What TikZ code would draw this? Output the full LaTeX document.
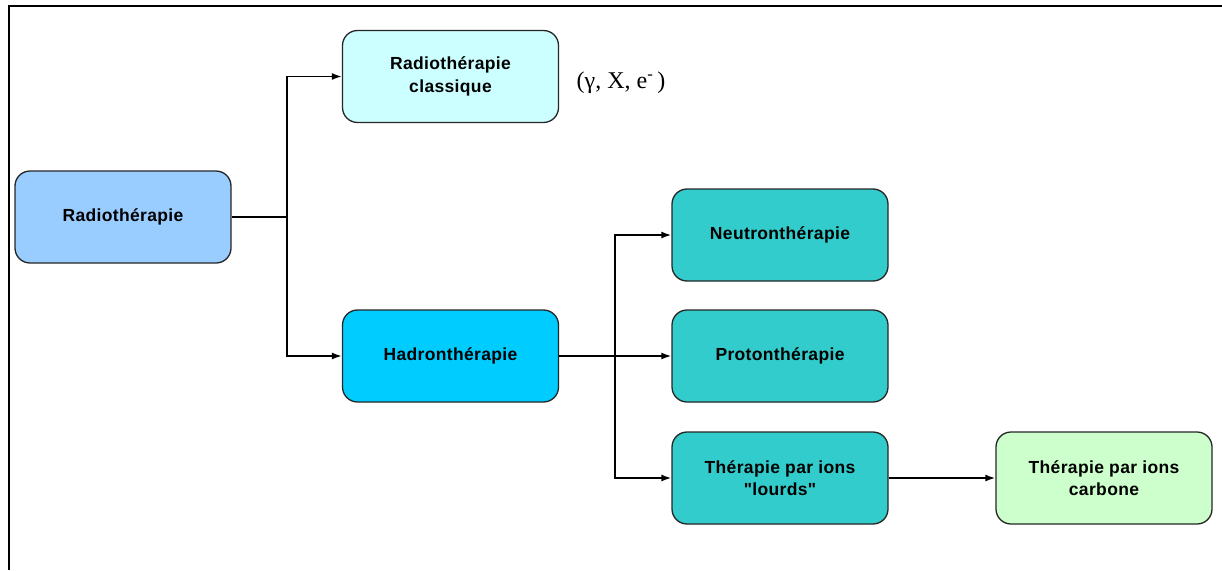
\documentclass[tikz,border=0pt]{standalone}
\usepackage{fontspec}
\setmainfont{Liberation Serif}
\newfontfamily\boxfont[LetterSpace=2]{Liberation Sans}
\usetikzlibrary{arrows.meta}

\definecolor{radioblue}{HTML}{99CCFF}
\definecolor{classicblue}{HTML}{CCFFFF}
\definecolor{hadronblue}{HTML}{00CCFF}
\definecolor{ionteal}{HTML}{33CCCC}
\definecolor{carbongreen}{HTML}{CCFFCC}

\begin{document}
\begin{tikzpicture}[
        x=1pt, y=-1pt,
        box/.style={rectangle, rounded corners=15pt, draw=black!85, line width=1.3pt, minimum width=216pt, minimum height=92pt, align=center, font=\boxfont\bfseries\fontsize{17.5}{22.5}\selectfont},
        link/.style={-{Latex[length=10pt, width=7pt]}, line width=1.6pt},
        joint/.style={line width=2.2pt},
    ]
        \useasboundingbox (0,0) rectangle (1222,570);
        \draw[line width=2.2pt] (9,570) -- (9,6) -- (1222,6);

        \node[box, fill=radioblue] (radio) at (123,217) {Radiothérapie};
        \node[box, fill=classicblue] (classique) at (450.5,76.5) {Radiothérapie\\classique};
        \node[box, fill=hadronblue] (hadron) at (450.5,356) {Hadronthérapie};
        \node[box, fill=ionteal] (neutron) at (780,235) {Neutronthérapie};
        \node[box, fill=ionteal] (proton) at (780,356) {Protonthérapie};
        \node[box, fill=ionteal] (lourds) at (780,478) {Thérapie par ions\\"lourds"};
        \node[box, fill=carbongreen] (carbone) at (1104,478) {Thérapie par ions\\carbone};

        \node[font=\fontsize{24}{28}\selectfont] (rayons) at (621,83) {(γ, X, e\textsuperscript{-}\,)};

        \coordinate (fork1) at (287,217);
        \coordinate (fork2) at (615,356);

        \draw[joint] (radio.east) -- (fork1);
        \draw[link] (fork1) |- (classique.west);
        \draw[link] (fork1) |- (hadron.west);

        \draw[joint] (hadron.east) -- (fork2);
        \draw[link] (fork2) |- (neutron.west);
        \draw[link] (fork2) -- (proton.west);
        \draw[link] (fork2) |- (lourds.west);

        \draw[link] (lourds.east) -- (carbone.west);
    \end{tikzpicture}
\end{document}
